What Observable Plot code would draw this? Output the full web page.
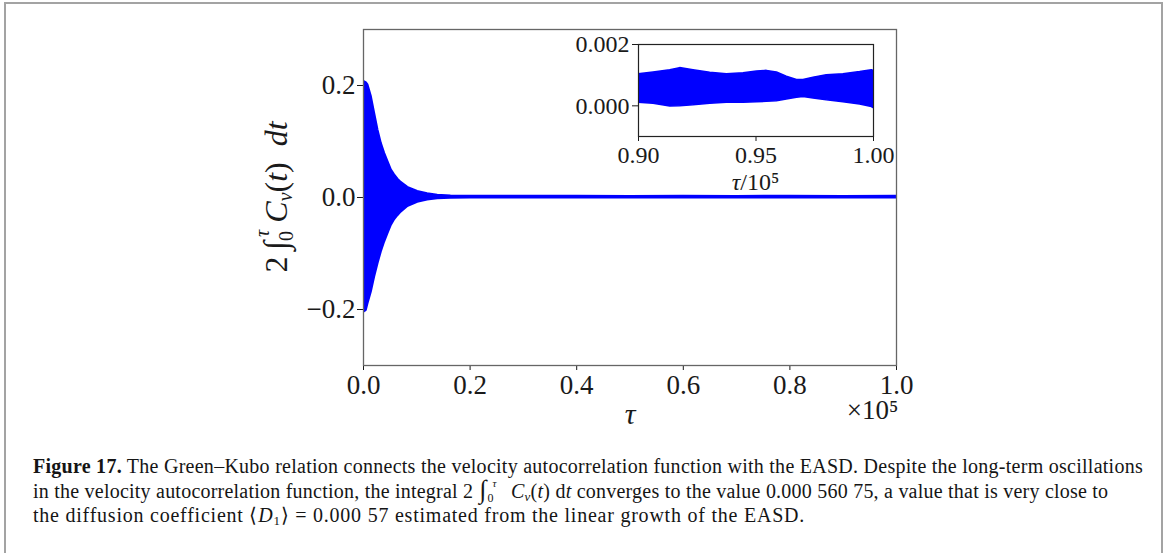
<!DOCTYPE html>
<html><head><meta charset="utf-8">
<script src="https://cdn.jsdelivr.net/npm/d3@7"></script>
<script src="https://cdn.jsdelivr.net/npm/@observablehq/plot@0.6"></script>
<style>
html,body{margin:0;padding:0;background:#fff;}
body{width:1168px;height:553px;overflow:hidden;position:relative;font-family:"Liberation Serif",serif;}
#frame{position:absolute;left:4px;top:2px;width:1159px;height:620px;border:2px solid #a3a3a3;box-sizing:border-box;}
#main{position:absolute;left:0;top:0;}
#inset{position:absolute;left:560px;top:30px;}
.cap{position:absolute;left:33px;font-size:20px;line-height:20px;white-space:nowrap;color:#151515;font-family:"Liberation Serif",serif;}
.cap i{font-style:italic;}
.sb{font-size:13px;position:relative;top:3px;}
.intw{position:relative;display:inline-block;width:22px;height:20px;vertical-align:top;}
.intw .s{position:absolute;left:1px;top:-4px;font-size:26px;line-height:26px;font-style:italic;}
.intw .up{position:absolute;left:14px;top:-3px;font-size:11px;line-height:11px;font-style:italic;}
.intw .dn{position:absolute;left:9px;top:11px;font-size:12px;line-height:12px;}
</style></head><body>
<div id="frame"></div>
<div id="main"></div>
<div id="inset"></div>
<div class="cap" id="c1" style="top:456px"><b>Figure 17.</b> The Green–Kubo relation connects the velocity autocorrelation function with the EASD. Despite the long-term oscillations</div>
<div class="cap" id="c2" style="top:481px">in the velocity autocorrelation function, the integral 2 <span class="intw"><span class="s">∫</span><span class="up">τ</span><span class="dn">0</span></span> &nbsp;<i>C</i><span class="sb"><i>v</i></span>(<i>t</i>) d<i>t</i> converges to the value 0.000 560 75, a value that is very close to</div>
<div class="cap" id="c3" style="top:505px">the diffusion coefficient ⟨<i>D</i><span class="sb">1</span>⟩ = 0.000 57 estimated from the linear growth of the EASD.</div>
<script>
// ---- main panel: envelope of the oscillating integral (tau in units of 1e5) ----
const tauMain = [0, 0.0044, 0.0075, 0.0138, 0.02, 0.0263, 0.0325, 0.0388, 0.045, 0.0513, 0.0575, 0.0638, 0.07, 0.0826, 0.1013, 0.12, 0.139, 0.164, 0.2, 0.3, 0.4, 0.5, 0.6, 0.7, 0.8, 0.9, 1.0];
const upperMain = [0.2065, 0.2045, 0.2005, 0.180, 0.150, 0.120, 0.0964, 0.0786, 0.0637, 0.0488, 0.0399, 0.0321, 0.0262, 0.0173, 0.0101, 0.006, 0.003, 0.0018, 0.0014, 0.0012, 0.0012, 0.0011, 0.0012, 0.0011, 0.0012, 0.0011, 0.0012];
const lowerMain = [-0.204, -0.2013, -0.1894, -0.1685, -0.1417, -0.1179, -0.097, -0.0792, -0.0643, -0.0494, -0.0393, -0.032, -0.0256, -0.0155, -0.0078, -0.0035, -0.0015, -0.0003, 0.0, 0.0001, 0.0001, 0.0001, 0.0, 0.0001, 0.0001, 0.0, 0.0];
const xTicksMain = [0, 0.2, 0.4, 0.6, 0.8, 1.0];
const yTicksMain = [-0.2, 0, 0.2];

// ---- inset panel: tau in [0.90, 1.00] x 1e5 ----
const tauInset = [0.9, 0.9064, 0.9135, 0.9177, 0.9234, 0.9305, 0.9376, 0.9447, 0.9504, 0.9546, 0.9589, 0.9631, 0.9674, 0.9702, 0.9745, 0.9801, 0.9872, 0.9943, 0.9993, 1.0];
const upperInset = [0.00103, 0.00109, 0.00116, 0.00123, 0.00116, 0.00108, 0.00103, 0.00106, 0.00112, 0.00114, 0.00109, 0.00095, 0.00084, 0.00084, 0.00092, 0.00100, 0.00103, 0.00110, 0.00116, 0.00114];
const lowerInset = [0.00010, 0.00007, -0.00002, -0.00001, 0.00002, 0.00007, 0.00010, 0.00010, 0.00012, 0.00013, 0.00015, 0.00021, 0.00026, 0.00029, 0.00024, 0.00018, 0.00012, 0.00004, -0.00004, -0.00007];
const xTicksInset = [0.90, 0.95, 1.00];
const yTicksInset = [0, 0.002];

const BLUE = "#0000ff";
const FONT = "Liberation Serif";
const INK = "#1a1a1a";

const mainData = tauMain.map((t, i) => ({tau: t, hi: upperMain[i], lo: lowerMain[i]}));
const insetData = tauInset.map((t, i) => ({tau: t, hi: upperInset[i], lo: lowerInset[i]}));

const main = Plot.plot({
  width: 1168, height: 440,
  marginLeft: 363, marginRight: 272, marginTop: 29, marginBottom: 75,
  style: {fontFamily: FONT, fontSize: "27px", color: INK, background: "transparent", overflow: "visible"},
  x: {domain: [0, 1], ticks: xTicksMain, tickFormat: d => d.toFixed(1), tickSize: 5, tickPadding: 4, label: null},
  y: {domain: [-0.3, 0.3], ticks: yTicksMain, tickFormat: d => (d < 0 ? "\u2212" : "") + Math.abs(d).toFixed(1), tickSize: 6, tickPadding: 2, label: null},
  marks: [
    Plot.areaY(mainData, {x: "tau", y1: "lo", y2: "hi", fill: BLUE, stroke: BLUE, strokeWidth: 3, clip: true}),
    Plot.frame({stroke: "#666", strokeWidth: 1.3}),
    Plot.text(["τ"], {frameAnchor: "bottom", dy: 49, fontSize: 30, fontStyle: "italic", lineAnchor: "middle", fill: INK}),
    Plot.text(["×10⁵"], {frameAnchor: "bottom-right", textAnchor: "end", dx: 2, dy: 45, fontSize: 27, lineAnchor: "middle", fill: INK})
  ]
});
document.getElementById("main").appendChild(main);

// rotated y label with integral limits (real text)
{
  const g = d3.select(main).append("g").attr("transform", "translate(287,197) rotate(-90)");
  const t = g.append("text").attr("text-anchor", "middle").attr("font-family", FONT).attr("font-size", 32).attr("fill", INK);
  t.append("tspan").text("2\u2009");
  t.append("tspan").attr("font-size", 34).attr("font-style", "italic").text("∫");
  t.append("tspan").attr("font-size", 20).attr("dy", 6).text("0");
  t.append("tspan").attr("font-size", 20).attr("dx", -6).attr("dy", -24).attr("font-style", "italic").text("τ");
  t.append("tspan").attr("dy", 18).attr("dx", 7).attr("font-style", "italic").text("C");
  t.append("tspan").attr("font-size", 20).attr("dy", 5).attr("font-style", "italic").text("v");
  t.append("tspan").attr("dy", -5).text("(");
  t.append("tspan").attr("font-style", "italic").text("t");
  t.append("tspan").text(")\u2002");
  t.append("tspan").attr("font-style", "italic").text("dt");
}

const inset = Plot.plot({
  width: 330, height: 170,
  marginLeft: 78, marginRight: 17, marginTop: 14, marginBottom: 64,
  style: {fontFamily: FONT, fontSize: "24px", color: INK, background: "transparent", overflow: "visible"},
  x: {domain: [0.9, 1.0], ticks: xTicksInset, tickFormat: d => d.toFixed(2), tickSize: 5, tickPadding: 4, label: null},
  y: {domain: [-0.001, 0.002], ticks: yTicksInset, tickFormat: d => d.toFixed(3), tickSize: 6, tickPadding: 3, label: null},
  marks: [
    Plot.frame({fill: "white", stroke: "none"}),
    Plot.areaY(insetData, {x: "tau", y1: "lo", y2: "hi", fill: BLUE, stroke: BLUE, strokeWidth: 1.5, clip: true}),
    Plot.frame({stroke: "#222", strokeWidth: 1.2})
  ]
});
document.getElementById("inset").appendChild(inset);
{
  const t = d3.select(inset).append("text").attr("x", 78 + 235 / 2).attr("y", 160)
    .attr("text-anchor", "middle").attr("font-family", FONT).attr("font-size", 24).attr("fill", INK);
  t.append("tspan").attr("font-style", "italic").text("τ");
  t.append("tspan").text("/10⁵");
}

// fit caption lines to the reference line widths via letter spacing
const targets = {c1: 1110, c2: 1076, c3: 772};
for (const id in targets) {
  const el = document.getElementById(id);
  const w = el.getBoundingClientRect().width;
  const n = el.textContent.length;
  const ls = Math.max(-1, Math.min(1.2, (targets[id] - w) / n));
  el.style.letterSpacing = ls + "px";
}
</script>
</body></html>
